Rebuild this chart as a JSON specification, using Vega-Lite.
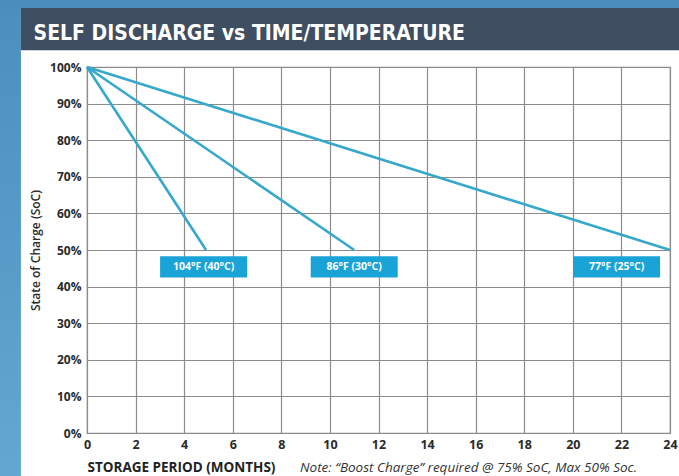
{
  "$schema": "https://vega.github.io/schema/vega-lite/v6.json",
  "autosize": "none",
  "width": 583,
  "height": 366,
  "padding": {"left": 87, "top": 67, "right": 9, "bottom": 43},
  "background": "white",
  "config": {
    "view": {"stroke": "#8c8c8c", "strokeWidth": 1.2},
    "font": "Open Sans"
  },
  "datasets": {
    "lines": [
      {"series": "104°F (40°C)", "month": 0, "soc": 100},
      {"series": "104°F (40°C)", "month": 4.9, "soc": 50},
      {"series": "86°F (30°C)", "month": 0, "soc": 100},
      {"series": "86°F (30°C)", "month": 11, "soc": 50},
      {"series": "77°F (25°C)", "month": 0, "soc": 100},
      {"series": "77°F (25°C)", "month": 24, "soc": 50}
    ],
    "labels": [
      {"label": "104°F (40°C)", "month": 4.8, "soc": 45.4},
      {"label": "86°F (30°C)", "month": 11, "soc": 45.4},
      {"label": "77°F (25°C)", "month": 21.8, "soc": 45.4}
    ],
    "one": [{"title": "SELF DISCHARGE vs TIME/TEMPERATURE", "note": "Note: \u201cBoost Charge\u201d required @ 75% SoC, Max 50% Soc."}]
  },
  "layer": [
    {
      "data": {"name": "lines"},
      "mark": {"type": "line", "color": "#35a8cc", "strokeWidth": 2.6},
      "encoding": {
        "x": {
          "field": "month",
          "type": "quantitative",
          "scale": {"domain": [0, 24], "nice": false},
          "axis": {
            "values": [0, 2, 4, 6, 8, 10, 12, 14, 16, 18, 20, 22, 24],
            "tickCount": 20,
            "title": "STORAGE PERIOD (MONTHS)",
            "titleAnchor": "start",
            "titleFont": "Open Sans",
            "titleFontWeight": "bold",
            "titleFontSize": 13.5,
            "titleColor": "#222222",
            "titlePadding": 10,
            "labelFont": "Open Sans",
            "labelFontWeight": "bold",
            "labelFontSize": 12.5,
            "labelColor": "#2a2a2a",
            "labelPadding": 5,
            "ticks": false,
            "domain": false,
            "gridColor": "#8c8c8c",
            "gridWidth": 1.2,
            "gridOpacity": 1,
            "labelFlush": false
          }
        },
        "y": {
          "field": "soc",
          "type": "quantitative",
          "scale": {"domain": [0, 100], "nice": false},
          "axis": {
            "values": [0, 10, 20, 30, 40, 50, 60, 70, 80, 90, 100],
            "tickCount": 20,
            "labelOverlap": false,
            "labelExpr": "datum.value + '%'",
            "title": "State of Charge (SoC)",
            "titleFont": "Open Sans",
            "titleFontWeight": 600,
            "titleFontSize": 12,
            "titleColor": "#2a2a2a",
            "titlePadding": 7,
            "labelFont": "Open Sans",
            "labelFontWeight": "bold",
            "labelFontSize": 12,
            "labelColor": "#2a2a2a",
            "labelPadding": 6,
            "ticks": false,
            "domain": false,
            "gridColor": "#8c8c8c",
            "gridWidth": 1.2,
            "gridOpacity": 1,
            "labelFlush": false
          }
        },
        "detail": {"field": "series"}
      }
    },
    {
      "data": {"name": "one"},
      "mark": {"type": "rect", "color": {"gradient": "linear", "x1": 0, "y1": 0, "x2": 0, "y2": 1, "stops": [{"offset": 0, "color": "#4b8fbd"}, {"offset": 1, "color": "#62a8d2"}]}, "clip": false},
      "encoding": {
        "x": {"datum": -3.6, "type": "quantitative"},
        "x2": {"datum": -2.72},
        "y": {"datum": -12, "type": "quantitative"},
        "y2": {"datum": 118.5}
      }
    },
    {
      "data": {"name": "one"},
      "mark": {"type": "rect", "color": "#4a8dbb", "clip": false},
      "encoding": {
        "x": {"datum": -3.6, "type": "quantitative"},
        "x2": {"datum": 24.5},
        "y": {"datum": 116.1, "type": "quantitative"},
        "y2": {"datum": 118.5}
      }
    },
    {
      "data": {"name": "one"},
      "mark": {"type": "rect", "color": "#3f4e60", "clip": false},
      "encoding": {
        "x": {"datum": -2.72, "type": "quantitative"},
        "x2": {"datum": 24.5},
        "y": {"datum": 104.6, "type": "quantitative"},
        "y2": {"datum": 116.1}
      }
    },
    {
      "data": {"name": "one"},
      "mark": {"type": "text", "font": "DejaVu Sans Condensed", "fontWeight": "bold", "fontSize": 21, "color": "#ffffff", "align": "left", "baseline": "alphabetic", "clip": false},
      "encoding": {
        "x": {"datum": -2.2, "type": "quantitative"},
        "y": {"datum": 107.4, "type": "quantitative"},
        "text": {"field": "title"}
      }
    },
    {
      "data": {"name": "labels"},
      "mark": {"type": "point", "shape": "M-1,-0.245L1,-0.245L1,0.245L-1,0.245Z", "filled": true, "color": "#1aa3d6", "opacity": 1, "size": 7569},
      "encoding": {
        "x": {"field": "month", "type": "quantitative"},
        "y": {"field": "soc", "type": "quantitative"}
      }
    },
    {
      "data": {"name": "labels"},
      "mark": {"type": "text", "color": "#ffffff", "font": "Open Sans", "fontWeight": "bold", "fontSize": 10.5, "align": "center", "baseline": "middle"},
      "encoding": {
        "x": {"field": "month", "type": "quantitative"},
        "y": {"field": "soc", "type": "quantitative"},
        "text": {"field": "label"}
      }
    },
    {
      "data": {"name": "one"},
      "mark": {"type": "text", "font": "Open Sans", "fontStyle": "italic", "fontSize": 13.5, "color": "#333333", "align": "left", "baseline": "alphabetic", "dy": 39, "clip": false},
      "encoding": {
        "x": {"datum": 8.77, "type": "quantitative"},
        "y": {"datum": 0, "type": "quantitative"},
        "text": {"field": "note"}
      }
    }
  ]
}
